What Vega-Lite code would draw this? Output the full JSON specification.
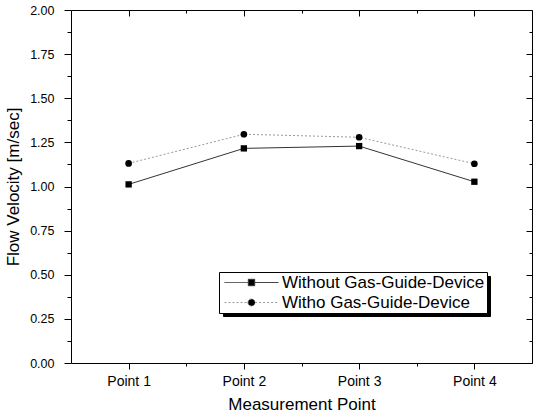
{
  "$schema": "https://vega.github.io/schema/vega-lite/v6.json",
  "autosize": "none",
  "width": 461,
  "height": 353,
  "padding": {"left": 71, "top": 10, "right": 3, "bottom": 54},
  "background": "white",
  "config": {
    "font": "Liberation Sans",
    "view": {"stroke": null},
    "axis": {"labelFont": "Liberation Sans", "titleFont": "Liberation Sans", "labelColor": "black", "titleColor": "black", "domainColor": "black", "tickColor": "black", "grid": false, "titleFontWeight": "normal", "labelOverlap": false, "labelFlush": false}
  },
  "data": {"values": [
    {"idx": 1, "point": "Point 1", "series": "Without Gas-Guide-Device", "v": 1.012},
    {"idx": 2, "point": "Point 2", "series": "Without Gas-Guide-Device", "v": 1.216},
    {"idx": 3, "point": "Point 3", "series": "Without Gas-Guide-Device", "v": 1.229},
    {"idx": 4, "point": "Point 4", "series": "Without Gas-Guide-Device", "v": 1.027},
    {"idx": 1, "point": "Point 1", "series": "Witho Gas-Guide-Device", "v": 1.131},
    {"idx": 2, "point": "Point 2", "series": "Witho Gas-Guide-Device", "v": 1.296},
    {"idx": 3, "point": "Point 3", "series": "Witho Gas-Guide-Device", "v": 1.279},
    {"idx": 4, "point": "Point 4", "series": "Witho Gas-Guide-Device", "v": 1.129}
  ]},
  "layer": [
    {
      "transform": [{"filter": "datum.series == 'Without Gas-Guide-Device'"}],
      "mark": {"type": "line", "strokeWidth": 1, "stroke": "#333333"},
      "encoding": {
        "x": {"field": "idx", "type": "quantitative", "scale": {"domain": [0.5, 4.5], "nice": false, "zero": false},
          "axis": {"orient": "bottom", "title": "Measurement Point", "titleFontSize": 17, "titlePadding": 8, "labelFontSize": 14, "labelPadding": 5,
            "values": [1, 1.5, 2, 2.5, 3, 3.5, 4],
            "labelExpr": "datum.value % 1 == 0 ? 'Point ' + datum.value : ''",
            "tickSize": {"condition": {"test": "datum.value % 1 == 0", "value": 6}, "value": 3}}},
        "y": {"field": "v", "type": "quantitative", "scale": {"domain": [0, 2], "nice": false, "zero": false},
          "axis": {"orient": "left", "title": "Flow Velocity [m/sec]", "titleFontSize": 17, "titlePadding": 7, "labelFontSize": 12.5, "labelPadding": 10,
            "values": [0, 0.125, 0.25, 0.375, 0.5, 0.625, 0.75, 0.875, 1, 1.125, 1.25, 1.375, 1.5, 1.625, 1.75, 1.875, 2],
            "labelExpr": "datum.value % 0.25 == 0 ? format(datum.value, '.2f') : ''",
            "tickSize": {"condition": {"test": "datum.value % 0.25 == 0", "value": 7}, "value": 4}}}
      }
    },
    {
      "transform": [{"filter": "datum.series == 'Witho Gas-Guide-Device'"}],
      "mark": {"type": "line", "strokeWidth": 1, "stroke": "#999999", "strokeDash": [2, 2]},
      "encoding": {
        "x": {"field": "idx", "type": "quantitative", "axis": null},
        "y": {"field": "v", "type": "quantitative", "axis": null}
      }
    },
    {
      "transform": [{"filter": "datum.series == 'Without Gas-Guide-Device'"}],
      "mark": {"type": "point", "shape": "square", "filled": true, "fill": "black", "size": 40, "opacity": 1},
      "encoding": {
        "x": {"field": "idx", "type": "quantitative", "axis": null},
        "y": {"field": "v", "type": "quantitative", "axis": null}
      }
    },
    {
      "transform": [{"filter": "datum.series == 'Witho Gas-Guide-Device'"}],
      "mark": {"type": "point", "shape": "circle", "filled": true, "fill": "black", "size": 45, "opacity": 1},
      "encoding": {
        "x": {"field": "idx", "type": "quantitative", "axis": null},
        "y": {"field": "v", "type": "quantitative", "axis": null}
      }
    },
    {
      "transform": [{"filter": "false"}],
      "mark": {"type": "point", "filled": true, "opacity": 1},
      "encoding": {
        "x": {"field": "idx", "type": "quantitative", "axis": null},
        "y": {"field": "v", "type": "quantitative", "axis": null},
        "fill": {"field": "series", "type": "nominal", "scale": {"domain": ["Without Gas-Guide-Device ", "Witho Gas-Guide-Device "], "range": ["black", "black"]},
          "legend": {"title": null, "orient": "none", "legendX": 152, "legendY": 266, "strokeColor": "black", "fillColor": "black", "padding": 2,
            "labelFont": "Liberation Sans", "labelFontSize": 17, "labelColor": "black", "labelLimit": 400, "symbolSize": 256, "rowPadding": 2, "labelOffset": 218, "symbolOffset": 22,
            "labelExpr": "'.'", "symbolType": "M-3.375,0H3.375"}}
      }
    },
    {
      "transform": [{"filter": "false"}],
      "mark": {"type": "point", "filled": true, "fill": "black", "strokeWidth": 1, "opacity": 1},
      "encoding": {
        "x": {"field": "idx", "type": "quantitative", "axis": null},
        "y": {"field": "v", "type": "quantitative", "axis": null},
        "shape": {"field": "series", "type": "nominal", "scale": {"domain": ["Without Gas-Guide-Device", "Witho Gas-Guide-Device"],
          "range": ["M-3.375,0H-0.45M0.45,0H3.375M-0.4,-0.4H0.4V0.4H-0.4Z", "M-3.375,0H-0.45M0.45,0H3.375M-0.45,0A0.45,0.45 0 1,0 0.45,0A0.45,0.45 0 1,0 -0.45,0Z"]},
          "legend": {"title": null, "orient": "none", "legendX": 148, "legendY": 262, "strokeColor": "black", "fillColor": "white", "padding": 2,
            "labelFont": "Liberation Sans", "labelFontSize": 17, "labelColor": "black", "labelLimit": 400, "symbolSize": 256, "rowPadding": 2, "labelOffset": 22, "symbolOffset": 22,
            "labelExpr": "datum.label + '\u00a0\u00a0\u00a0\u00a0\u00a0\u00a0\u00a0\u00a0'",
            "symbolFillColor": "black", "symbolStrokeWidth": 1}},
        "stroke": {"field": "series", "type": "nominal", "scale": {"domain": ["Without Gas-Guide-Device", "Witho Gas-Guide-Device"], "range": ["#333333", "#999999"]},
          "legend": {"title": null, "orient": "none", "legendX": 148, "legendY": 262}},
        "strokeDash": {"field": "series", "type": "nominal", "scale": {"domain": ["Without Gas-Guide-Device", "Witho Gas-Guide-Device"], "range": [[1, 0], [2, 2]]},
          "legend": {"title": null, "orient": "none", "legendX": 148, "legendY": 262}}
      }
    },
    {
      "mark": {"type": "line", "opacity": 0},
      "encoding": {
        "x": {"field": "idx", "type": "quantitative",
          "axis": {"orient": "top", "title": null, "labels": false, "values": [1, 1.5, 2, 2.5, 3, 3.5, 4],
            "tickSize": {"condition": {"test": "datum.value % 1 == 0", "value": -6}, "value": -3}}},
        "y": {"field": "v", "type": "quantitative",
          "axis": {"orient": "right", "title": null, "labels": false,
            "values": [0, 0.125, 0.25, 0.375, 0.5, 0.625, 0.75, 0.875, 1, 1.125, 1.25, 1.375, 1.5, 1.625, 1.75, 1.875, 2],
            "tickSize": {"condition": {"test": "datum.value % 0.25 == 0", "value": -6}, "value": -3}}}
      }
    }
  ],
  "resolve": {"axis": {"x": "independent", "y": "independent"}}
}
